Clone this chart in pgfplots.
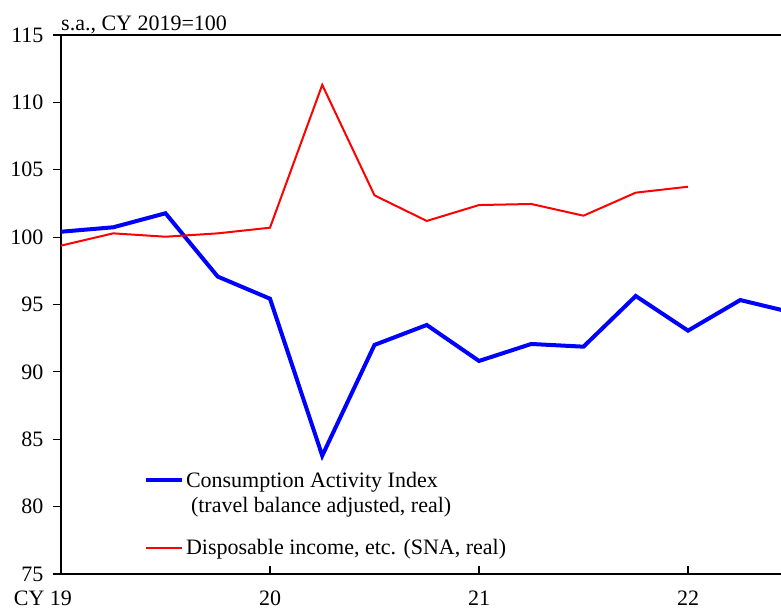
\documentclass[border=0pt]{standalone}
\usepackage{fontspec}
\setmainfont{Liberation Serif}
\usepackage{pgfplots}
\pgfplotsset{compat=1.18}

\definecolor{cablue}{RGB}{0,0,255}
\definecolor{incred}{RGB}{255,0,0}

\pgfplotsset{
    legline/.style={legend image code/.code={\draw[##1] (0pt,#1) -- (36pt,#1);}},
}

\begin{document}
\fontsize{22}{25}\selectfont
\begin{tikzpicture}
\begin{axis}[
    scale only axis,
    width=720pt, height=539pt,
    xmin=0, xmax=13.78,
    ymin=75, ymax=115,
    clip mode=individual,
    axis x line*=bottom,
    axis y line*=left,
    axis line style={line width=2pt},
    xtick={0,4,8,12},
    xticklabels={{\llap{CY }19},20,21,22},
    ytick={75,80,...,115},
    tick align=inside,
    major tick length=8pt,
    tick style={black, line width=1.2pt},
    ytick style={xshift=-8pt},
    yticklabel style={xshift=-10pt},
    xticklabel style={inner sep=0pt, yshift=-17pt},
    /pgf/number format/assume math mode=true,
    legend cell align=left,
    legend style={draw=none, fill=none, at={(0.115,0.189)}, anchor=north west,
        inner sep=0pt, row sep=23pt, column sep=2pt,
        nodes={inner sep=0pt, align=left}},
]

% Consumption Activity Index, quarterly from 2019 Q1
\addplot[cablue, line width=4pt, legline=14.5pt] coordinates {
    (0,100.40) (1,100.73) (2,101.77) (3,97.07) (4,95.43)
    (5,83.78) (6,92.00) (7,93.48) (8,90.81) (9,92.07)
    (10,91.87) (11,95.63) (12,93.06) (13,95.33) (14,94.40)
};
\addlegendentry{Consumption Activity Index\\\hspace{5pt}(travel balance adjusted, real)}

% Disposable income (SNA, real)
\addplot[incred, line width=2pt, legline=0pt] coordinates {
    (0,99.37) (1,100.28) (2,100.03) (3,100.28) (4,100.70)
    (5,111.30) (6,103.10) (7,101.20) (8,102.38) (9,102.46)
    (10,101.59) (11,103.30) (12,103.74)
};
\addlegendentry{Disposable income, etc. (SNA, real)}

\draw[line width=2pt] (rel axis cs:0,1) -- (rel axis cs:1,1);
\node[anchor=base west, inner sep=0pt, yshift=4.5pt] at (rel axis cs:0,1) {s.a., CY 2019=100};
\coordinate (sw) at (rel axis cs:0,0);
\coordinate (ne) at (rel axis cs:1,1);
\end{axis}
\pgfresetboundingbox
\path[use as bounding box] ([shift={(-61pt,-36pt)}]sw) rectangle ([shift={(0pt,35pt)}]ne);
\end{tikzpicture}
\end{document}
